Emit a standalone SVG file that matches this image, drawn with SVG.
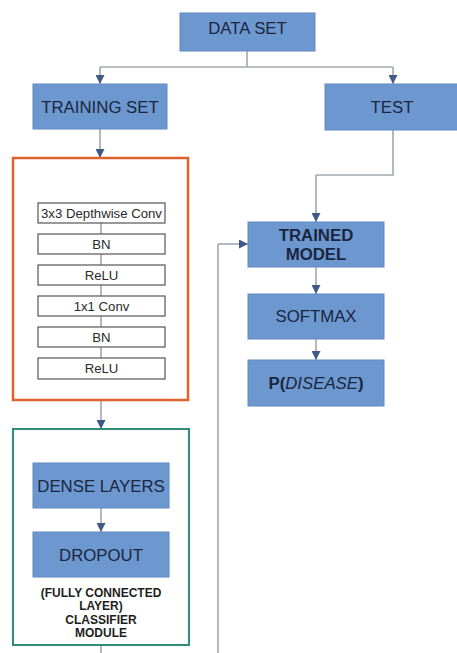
<svg xmlns="http://www.w3.org/2000/svg" width="457" height="653" viewBox="0 0 457 653">
<defs>
<marker id="ah" viewBox="0 0 10 10" refX="10" refY="5" markerWidth="9" markerHeight="9" markerUnits="userSpaceOnUse" orient="auto">
<path d="M0,0 L10,5 L0,10 z" fill="#3f5a86"/>
</marker>
<style>
.b{fill:#6d97cf;stroke:#5f89c2;stroke-width:1}
.t{font-family:"Liberation Sans",Arial,sans-serif;font-size:16.8px;fill:#1a2640;text-anchor:middle}
.bold{font-weight:bold}
.s{fill:#fff;stroke:#555;stroke-width:1.2}
.st{font-family:"Liberation Sans",Arial,sans-serif;font-size:13.2px;fill:#2a2a2a;text-anchor:middle}
.c{fill:none;stroke:#a3a8ae;stroke-width:1.6}
.a{marker-end:url(#ah)}
.ct{font-family:"Liberation Sans",Arial,sans-serif;font-size:12px;font-weight:bold;fill:#1e1e1e;text-anchor:middle}
</style>
</defs>
<rect width="457" height="653" fill="#fff"/>
<g id="connectors">
<path class="c" d="M247,51 V67"/>
<path class="c" d="M100,67 H393"/>
<path class="c a" d="M100,67 V84"/>
<path class="c a" d="M393,67 V84"/>
<path class="c a" d="M100,129 V158"/>
<path class="c" d="M101,223 V358"/>
<path class="c a" d="M101,400 V429"/>
<path class="c a" d="M101,508 V532"/>
<path class="c" d="M101,645 V653"/>
<path class="c" d="M393,130 V175 H316"/>
<path class="c a" d="M316,175 V222"/>
<path class="c" d="M218,653 V244"/>
<path class="c a" d="M218,244 H248"/>
<path class="c a" d="M316,267 V294"/>
<path class="c a" d="M316,339 V360"/>
</g>
<g id="dataset"><rect class="b" x="180" y="13" width="135" height="38"/><text class="t" x="247.5" y="34">DATA SET</text></g>
<g id="training"><rect class="b" x="33" y="84" width="134" height="45"/><text class="t" x="100" y="112.5">TRAINING SET</text></g>
<g id="test"><rect class="b" x="325" y="84" width="135" height="46"/><text class="t" x="392" y="113">TEST</text></g>
<g id="feature-block">
<rect x="13" y="158" width="175" height="242" fill="none" stroke="#e0622a" stroke-width="2.5"/>
<g id="l1"><rect class="s" x="38" y="203" width="127" height="20"/><text class="st" x="101.5" y="217.5">3x3 Depthwise Conv</text></g>
<g id="l2"><rect class="s" x="38" y="234" width="127" height="20"/><text class="st" x="101.5" y="248.5">BN</text></g>
<g id="l3"><rect class="s" x="38" y="265" width="127" height="20"/><text class="st" x="101.5" y="279.5">ReLU</text></g>
<g id="l4"><rect class="s" x="38" y="296" width="127" height="20"/><text class="st" x="101.5" y="310.5">1x1 Conv</text></g>
<g id="l5"><rect class="s" x="38" y="327" width="127" height="20"/><text class="st" x="101.5" y="341.5">BN</text></g>
<g id="l6"><rect class="s" x="38" y="358" width="127" height="21"/><text class="st" x="101.5" y="373">ReLU</text></g>
</g>
<g id="classifier">
<rect x="13" y="429" width="176" height="216" fill="none" stroke="#2f8c78" stroke-width="2"/>
<g id="dense"><rect class="b" x="33" y="463" width="136" height="45"/><text class="t" x="101" y="491.5">DENSE LAYERS</text></g>
<g id="dropout"><rect class="b" x="33" y="532" width="136" height="45"/><text class="t" x="101" y="560.5">DROPOUT</text></g>
<text class="ct" x="101" y="597">(FULLY CONNECTED</text>
<text class="ct" x="101" y="610">LAYER)</text>
<text class="ct" x="101" y="624">CLASSIFIER</text>
<text class="ct" x="101" y="637">MODULE</text>
</g>
<g id="trained"><rect class="b" x="248" y="222" width="136" height="45"/><text class="t bold" x="316" y="241">TRAINED</text><text class="t bold" x="316" y="260">MODEL</text></g>
<g id="softmax"><rect class="b" x="248" y="294" width="136" height="45"/><text class="t" x="316" y="322">SOFTMAX</text></g>
<g id="pdisease"><rect class="b" x="248" y="360" width="136" height="46"/><text class="t" x="316" y="389"><tspan font-weight="bold">P(</tspan><tspan font-style="italic">DISEASE</tspan><tspan font-weight="bold">)</tspan></text></g>
</svg>
